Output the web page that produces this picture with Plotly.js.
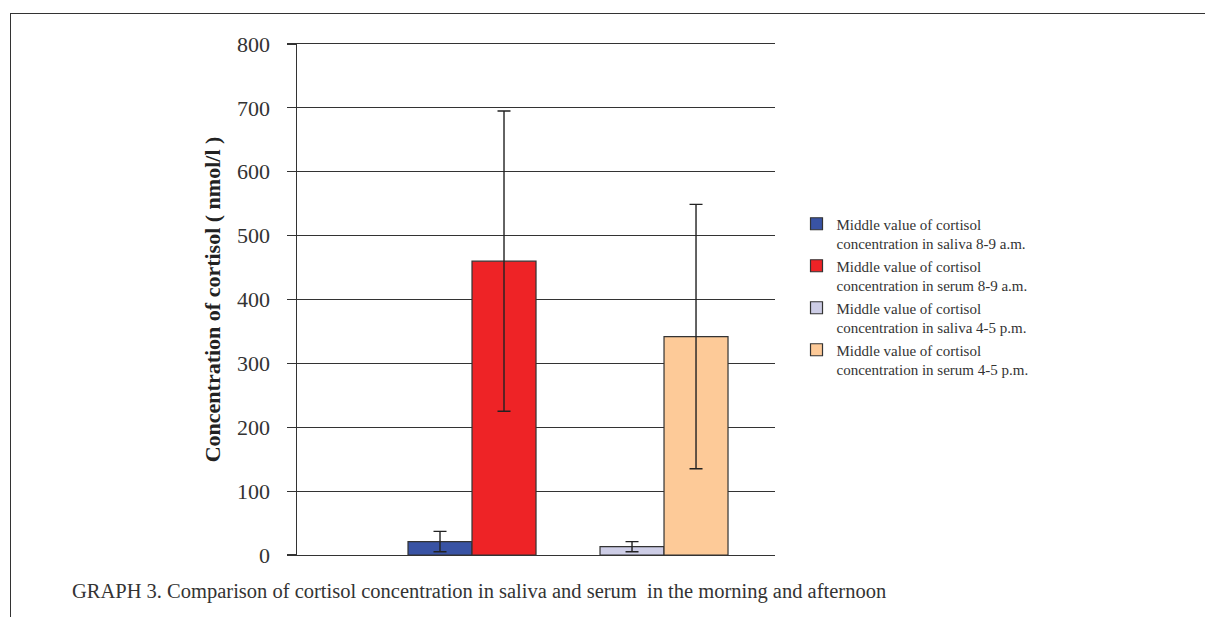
<!DOCTYPE html>
<html>
<head>
<meta charset="utf-8">
<script src="https://cdn.plot.ly/plotly-3.0.1.min.js"></script>
<style>
  html, body { margin: 0; padding: 0; background: #fff; }
  #wrap { position: relative; width: 1205px; height: 617px; }
  #chart { position: absolute; left: 0; top: 0; width: 1205px; height: 617px; }
  #frame { position: absolute; left: 10px; top: 13px; width: 1195px; height: 604px;
           border-top: 1px solid #333; border-left: 1px solid #333; pointer-events: none; }
</style>
</head>
<body>
<div id="wrap">
  <div id="chart"></div>
  <div id="frame"></div>
</div>
<script>
// Data
const categories = ["8-9 a.m.", "4-5 p.m."];
const seriesNames = [
  "Middle value of cortisol<br>concentration in saliva 8-9 a.m.",
  "Middle value of cortisol<br>concentration in serum 8-9 a.m.",
  "Middle value of cortisol<br>concentration in saliva 4-5 p.m.",
  "Middle value of cortisol<br>concentration in serum 4-5 p.m."
];
const seriesCategory = ["8-9 a.m.", "8-9 a.m.", "4-5 p.m.", "4-5 p.m."];
const seriesGroup = ["saliva", "serum", "saliva", "serum"];
const meanValues = [21, 460, 13, 342];
const errorValues = [16, 235, 8, 207];
const seriesColors = ["#3953a4", "#ee2326", "#cdcde6", "#fdca98"];
const yTicks = [0, 100, 200, 300, 400, 500, 600, 700, 800];
const caption = "GRAPH 3. Comparison of cortisol concentration in saliva and serum&nbsp;&nbsp;in the morning and afternoon";

const serif = "'Liberation Serif', 'DejaVu Serif', serif";

const traces = meanValues.map((v, i) => ({
  type: "bar",
  name: seriesNames[i],
  x: [seriesCategory[i]],
  y: [v],
  offsetgroup: seriesGroup[i],
  marker: { color: seriesColors[i], line: { color: "#333", width: 1.2 } },
  error_y: { type: "data", array: [errorValues[i]], visible: true,
             color: "#222", thickness: 1.4, width: 6.5 },
  hoverinfo: "y"
}));

const layout = {
  width: 1205, height: 617,
  margin: { l: 297, r: 430, t: 44, b: 62 },
  paper_bgcolor: "rgba(0,0,0,0)",
  plot_bgcolor: "#fff",
  barmode: "group",
  bargap: 1/3,
  bargroupgap: 0,
  font: { family: serif, color: "#333" },
  xaxis: {
    type: "category",
    categoryarray: categories,
    range: [-0.9115, 1.578],
    showticklabels: false,
    ticks: "",
    showgrid: false,
    showline: true, linecolor: "#333", linewidth: 1.3, mirror: true,
    zeroline: false, fixedrange: true
  },
  yaxis: {
    range: [0, 800],
    tickvals: yTicks,
    ticktext: yTicks.map(String),
    ticks: "outside", ticklen: 9, tickcolor: "#333", tickwidth: 1.2,
    ticklabelstandoff: 12,
    showgrid: true, gridcolor: "#333", gridwidth: 1.2,
    showline: true, linecolor: "#333", linewidth: 1.5,
    zeroline: false,
    tickfont: { family: serif, size: 22, color: "#333" },
    title: { text: "<b>Concentration of cortisol ( nmol/l )</b>",
             font: { family: serif, size: 22, color: "#222" }, standoff: 10 },
    fixedrange: true
  },
  showlegend: true,
  legend: {
    x: 1.045, xanchor: "left",
    y: 0.68, yanchor: "top",
    valign: "top",
    font: { family: serif, size: 15, color: "#333" },
    tracegroupgap: 6,
    bgcolor: "rgba(0,0,0,0)"
  },
  annotations: [{
    text: caption,
    xref: "paper", yref: "paper",
    x: -0.475, xanchor: "left",
    y: -0.0705, yanchor: "middle",
    showarrow: false,
    font: { family: serif, size: 20.5, color: "#333" }
  }]
};

Plotly.newPlot("chart", traces, layout, { displayModeBar: false, staticPlot: true });
</script>
</body>
</html>
